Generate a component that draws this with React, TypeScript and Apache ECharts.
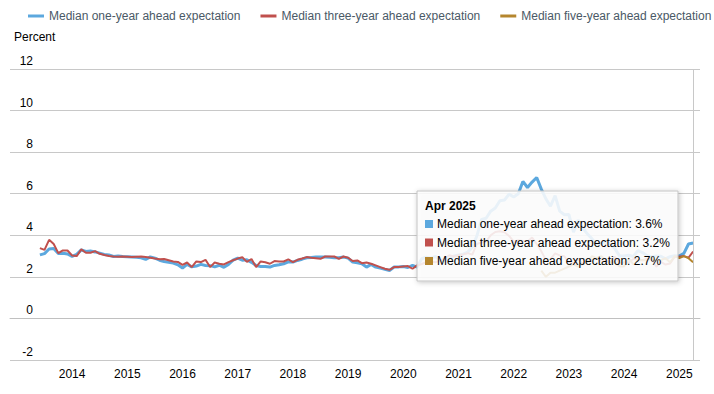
import React, { useEffect, useRef } from 'react';
import * as echarts from 'echarts';

const FONT = '"Liberation Sans", Arial, Helvetica, sans-serif';

// Monthly data, first value = Jun 2013
const seriesStart = '2013-06';
const oneYear = [
  3.06, 3.12, 3.34, 3.36, 3.12, 3.14, 3.10,
  2.98, 3.08, 3.30, 3.22, 3.24, 3.20, 3.14, 3.08, 3.05, 2.98, 3.00, 2.98,
  2.97, 2.96, 2.94, 2.92, 2.84, 2.96, 2.90, 2.80, 2.74, 2.70, 2.66, 2.58,
  2.42, 2.60, 2.48, 2.52, 2.60, 2.55, 2.54, 2.48, 2.56, 2.46, 2.60, 2.80,
  2.90, 2.80, 2.82, 2.70, 2.55, 2.50, 2.50, 2.47, 2.55, 2.58, 2.63, 2.72,
  2.71, 2.79, 2.85, 2.92, 2.93, 2.95, 2.95, 2.95, 2.94, 2.92, 2.92, 2.95,
  2.90, 2.71, 2.68, 2.63, 2.47, 2.60, 2.47, 2.42, 2.36, 2.31, 2.47, 2.48,
  2.50, 2.45, 2.55, 2.47, 2.87, 2.95, 2.90, 2.98, 2.78, 2.80, 2.86, 3.00,
  3.05, 3.09, 3.19, 3.43, 3.97, 4.76, 4.82, 5.16, 5.31, 5.66, 5.70, 5.98,
  5.84, 6.00, 6.59, 6.30, 6.56, 6.78, 6.22, 5.75, 5.40, 5.91, 5.16, 4.99,
  5.00, 4.15, 4.73, 4.36, 4.07, 3.84, 3.55, 3.63, 3.68, 3.58, 3.36, 3.01,
  3.00, 3.04, 2.98, 3.26, 3.17, 3.02, 2.97, 3.00, 2.99, 2.87, 2.97, 3.02,
  3.00, 3.13, 3.58, 3.63,
];
const threeYear = [
  3.38, 3.30, 3.78, 3.58, 3.14, 3.27, 3.27,
  3.03, 3.00, 3.32, 3.16, 3.16, 3.24, 3.11, 3.05, 3.00, 2.98, 2.97, 2.98,
  2.97, 2.96, 2.97, 2.98, 2.96, 2.92, 2.88, 2.85, 2.86, 2.80, 2.74, 2.72,
  2.58, 2.69, 2.47, 2.74, 2.71, 2.82, 2.47, 2.69, 2.63, 2.60, 2.71, 2.80,
  2.88, 2.94, 2.72, 2.86, 2.47, 2.74, 2.70, 2.63, 2.76, 2.74, 2.74, 2.84,
  2.71, 2.82, 2.88, 2.95, 2.92, 2.90, 2.87, 2.98, 2.98, 2.98, 2.87, 2.98,
  2.92, 2.76, 2.79, 2.66, 2.69, 2.63, 2.55, 2.47, 2.39, 2.34, 2.47, 2.48,
  2.50, 2.52, 2.39, 2.55, 2.62, 2.70, 2.73, 2.70, 2.79, 2.89, 3.04, 2.98,
  3.04, 3.08, 3.14, 3.07, 3.59, 3.64, 3.71, 4.00, 4.16, 4.19, 4.15, 3.97,
  3.69, 3.76, 3.72, 3.70, 3.89, 3.58, 3.23, 2.81, 2.85, 3.13, 3.03, 2.99,
  2.67, 2.65, 2.84, 2.63, 2.75, 2.83, 2.90, 2.77, 2.80, 2.66, 2.97, 2.64,
  2.70, 2.69, 2.86, 2.83, 2.80, 2.87, 2.90, 2.48, 2.72, 2.59, 2.64, 2.97,
  2.97, 3.00, 2.92, 3.22,
];
// first value = Jul 2022
const fiveYearStart = '2022-07';
const fiveYear = [
  2.30, 2.00, 2.20, 2.20, 2.30, 2.40,
  2.50, 2.60, 2.50, 2.60, 2.70, 3.00, 2.90, 3.00, 2.80, 2.70, 2.70, 2.50,
  2.50, 2.90, 2.60, 2.80, 2.80, 2.80, 2.90, 2.80, 2.80, 2.90, 2.70, 3.00,
  2.90, 3.00, 2.90, 2.70,
];

const yearLabels = ['2014', '2015', '2016', '2017', '2018', '2019', '2020', '2021', '2022', '2023', '2024', '2025'];
const monthNames = ['Jan', 'Feb', 'Mar', 'Apr', 'May', 'Jun', 'Jul', 'Aug', 'Sep', 'Oct', 'Nov', 'Dec'];
const axisFirst = '2012-12';
const axisLast = '2025-05';

const seriesNames = [
  'Median one-year ahead expectation',
  'Median three-year ahead expectation',
  'Median five-year ahead expectation',
];
const seriesColors = ['#5ca8de', '#c0504d', '#b5862e'];

function monthIndex(s: string) {
  const [y, m] = s.split('-').map(Number);
  return y * 12 + (m - 1);
}
function monthLabel(idx: number) {
  const y = Math.floor(idx / 12);
  const m = (idx % 12) + 1;
  return `${y}-${m < 10 ? '0' + m : m}`;
}
const categories: string[] = [];
for (let i = monthIndex(axisFirst); i <= monthIndex(axisLast); i++) categories.push(monthLabel(i));

function align(values: number[], start: string) {
  const s = monthIndex(start);
  return categories.map((c) => {
    const k = monthIndex(c) - s;
    return k >= 0 && k < values.length ? values[k] : null;
  });
}

const isYearTick = (_i: number, v: string) => v.endsWith('-01') && yearLabels.includes(v.slice(0, 4));

export default function App() {
  const ref = useRef<HTMLDivElement>(null);
  useEffect(() => {
    if (!ref.current) return;
    const chart = echarts.init(ref.current, null, { renderer: 'svg' });
    const lastIdx = monthIndex(seriesStart) + oneYear.length - 1;
    const lastCat = monthLabel(lastIdx);
    const tipTitle = `${monthNames[lastIdx % 12]} ${Math.floor(lastIdx / 12)}`;
    const lastVals = [oneYear[oneYear.length - 1], threeYear[threeYear.length - 1], fiveYear[fiveYear.length - 1]];
    const Z = 100;
    const rows: any[] = [];
    lastVals.forEach((v, i) => {
      const y = 33 + i * 18.5;
      rows.push({ type: 'rect', z: Z + 1, shape: { x: 8, y: y - 4, width: 8, height: 8 }, style: { fill: seriesColors[i] } });
      rows.push({
        type: 'text', z: Z + 1, x: 20, y,
        style: { text: `${seriesNames[i]}: ${v.toFixed(1)}%`, font: `12px ${FONT}`, fill: '#000', verticalAlign: 'middle' },
      });
    });
    const datas = [align(oneYear, seriesStart), align(threeYear, seriesStart), align(fiveYear, fiveYearStart)];
    chart.setOption({
      animation: false,
      backgroundColor: '#fff',
      textStyle: { fontFamily: FONT },
      title: {
        text: 'Percent', left: 14, top: 31, padding: 0,
        textStyle: { fontSize: 12, fontWeight: 'normal', color: '#000', fontFamily: FONT },
      },
      legend: {
        top: 10, left: 28, width: 700, padding: 0, itemGap: 20, itemWidth: 16, itemHeight: 3,
        icon: 'rect', selectedMode: false,
        textStyle: { fontSize: 12, color: '#4a5966', fontFamily: FONT },
        data: seriesNames,
      },
      grid: { left: 10, right: 14, top: 69, bottom: 34 },
      xAxis: {
        type: 'category', data: categories, boundaryGap: true,
        axisLine: { lineStyle: { color: '#c0c0c0' } },
        axisTick: { inside: true, length: 7, alignWithLabel: true, interval: isYearTick, lineStyle: { color: '#c0c0c0' } },
        axisLabel: { interval: isYearTick, formatter: (v: string) => v.slice(0, 4), margin: 8, color: '#000', fontSize: 12, fontFamily: FONT },
        splitLine: { show: false },
      },
      yAxis: {
        type: 'value', min: -2, max: 12, interval: 2,
        axisLine: { show: false }, axisTick: { show: false },
        splitLine: { lineStyle: { color: '#c8c8c8' } },
        axisLabel: { inside: true, align: 'right', margin: 23, verticalAlign: 'bottom', padding: [0, 0, 2, 0], color: '#000', fontSize: 12, fontFamily: FONT },
      },
      series: datas.map((d, i) => ({
        name: seriesNames[i], type: 'line', data: d, showSymbol: false, symbol: 'none',
        color: seriesColors[i],
        lineStyle: { color: seriesColors[i], width: i === 0 ? 3 : 2 },
        emphasis: { disabled: true },
        markLine: i === 0 ? {
          silent: true, symbol: ['none', 'none'], label: { show: false },
          lineStyle: { color: '#c8c8c8', type: 'solid', width: 1 },
          data: [{ xAxis: lastCat }],
        } : undefined,
      })),
      graphic: [{
        type: 'group', x: 417, y: 191, z: Z,
        children: [
          {
            type: 'rect', z: Z, shape: { x: 0, y: 0, width: 261, height: 90 },
            style: { fill: 'rgba(255,255,255,0.85)', stroke: '#c4c4c4', lineWidth: 1, shadowBlur: 5, shadowOffsetX: 1, shadowOffsetY: 1, shadowColor: 'rgba(0,0,0,0.25)' },
          },
          { type: 'text', z: Z + 1, x: 8, y: 15, style: { text: tipTitle, font: `bold 12px ${FONT}`, fill: '#000', verticalAlign: 'middle' } },
          ...rows,
        ],
      }],
    });
    return () => chart.dispose();
  }, []);
  return <div ref={ref} style={{ position: 'fixed', left: 0, top: 0, width: 714, height: 394 }} />;
}
